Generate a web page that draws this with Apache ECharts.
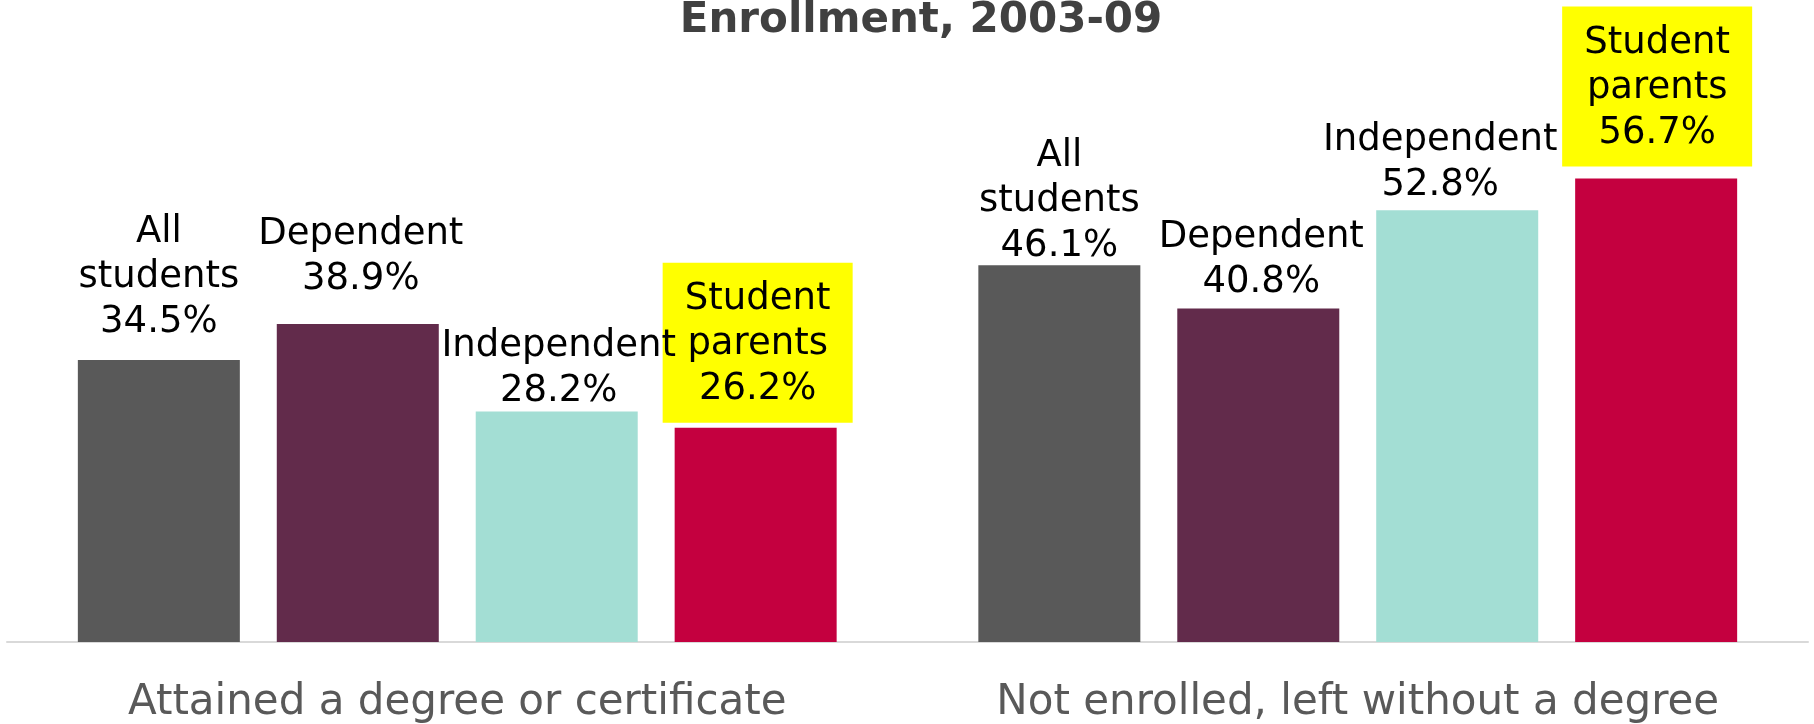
<!DOCTYPE html>
<html>
<head>
<meta charset="utf-8">
<script src="https://cdn.jsdelivr.net/npm/echarts@6/dist/echarts.min.js"></script>
<style>
  html, body { margin: 0; padding: 0; background: #ffffff; }
  #chart { width: 1814px; height: 724px; }
</style>
</head>
<body>
<div id="chart"></div>
<script>
// ---- data ----
const titleText = 'Enrollment, 2003-09';
const categories = ['Attained a degree or certificate', 'Not enrolled, left without a degree'];
const groupNames = ['All\nstudents', 'Dependent', 'Independent', 'Student\nparents'];
const allStudents = [34.5, 46.1];
const dependent = [38.9, 40.8];
const independent = [28.2, 52.8];
const studentParents = [26.2, 56.7];

// ---- style ----
const FONT = '"DejaVu Sans", sans-serif';
const colors = ['#595959', '#622B4B', '#A3DED4', '#C4003F'];
const seriesValues = [allStudents, dependent, independent, studentParents];
const seriesZ = [2, 2, 4, 3];
// label nudges [dx, dy] per series per category (label placement only)
const labelNudge = [
  [[0, -15], [0, 4]],
  [[3, -22], [3, -4]],
  [[2, 2], [-17, -2]],
  [[2, -5], [1, -12]]
];

const chart = echarts.init(document.getElementById('chart'), null, { renderer: 'canvas' });

const series = seriesValues.map((vals, i) => {
  const highlight = i === 3;
  const label = {
    show: true,
    position: 'top',
    distance: 0,
    formatter: p => p.seriesName + '\n' + Number(p.value).toFixed(1) + '%',
    fontFamily: FONT,
    fontSize: 37,
    lineHeight: 45,
    color: '#000000',
    align: 'center'
  };
  if (highlight) {
    label.backgroundColor = '#FFFF00';
    label.padding = [14, 0, 11, 0];
    label.width = 190;
  }
  return {
    type: 'bar',
    name: groupNames[i],
    z: seriesZ[i],
    barWidth: 162,
    barGap: '22.8%',
    itemStyle: { color: colors[i] },
    label: label,
    emphasis: { disabled: true },
    data: vals.map((v, j) => ({ value: v, label: { offset: labelNudge[i][j] } }))
  };
});

chart.setOption({
  animation: false,
  backgroundColor: '#ffffff',
  title: {
    text: titleText,
    left: 916,
    textAlign: 'center',
    top: -5,
    textStyle: { fontFamily: FONT, fontSize: 42, fontWeight: 'bold', color: '#404040', lineHeight: 42 }
  },
  grid: { left: 7, right: 6, top: 151.5, bottom: 79, containLabel: false },
  xAxis: {
    type: 'category',
    data: categories,
    axisTick: { show: false },
    axisLine: { show: true, lineStyle: { color: '#D9D9D9', width: 2 } },
    axisLabel: { fontFamily: FONT, fontSize: 42, lineHeight: 42, color: '#595959', margin: 40, interval: 0 }
  },
  yAxis: {
    type: 'value',
    min: 0,
    max: 60,
    show: false,
    splitLine: { show: false }
  },
  series: series
});
</script>
</body>
</html>
